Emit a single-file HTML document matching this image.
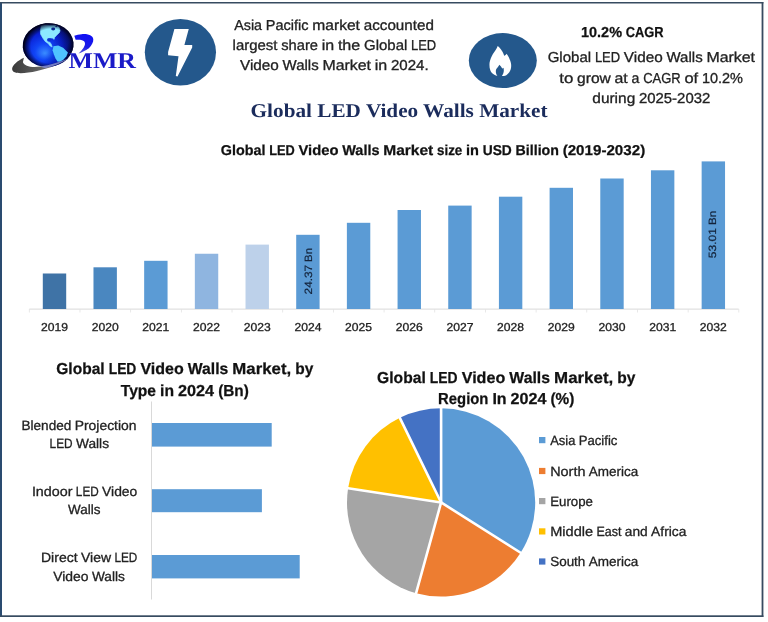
<!DOCTYPE html>
<html lang="en"><head><meta charset="utf-8"><title>Global LED Video Walls Market</title>
<style>
html,body{margin:0;padding:0;background:#fff;}
body{width:768px;height:622px;overflow:hidden;}
svg{display:block;}
text{font-family:"Liberation Sans",sans-serif;fill:#222;stroke:#222;stroke-width:0.3px;}
.b{font-weight:bold;fill:#111;stroke:#111;stroke-width:0.25px;}
.ser{font-family:"Liberation Serif",serif;font-weight:bold;stroke:none;}
</style></head><body>
<svg width="768" height="622" viewBox="0 0 768 622" text-rendering="geometricPrecision">
<defs>
<radialGradient id="gl" cx="0.4" cy="0.58" r="0.62" fx="0.42" fy="0.68">
<stop offset="0" stop-color="#3a8cff"/><stop offset="0.3" stop-color="#1146f6"/><stop offset="0.62" stop-color="#0a22d6"/><stop offset="0.86" stop-color="#061280"/><stop offset="1" stop-color="#02052a"/>
</radialGradient>
<radialGradient id="gl3" cx="0.55" cy="0.53" r="0.53"><stop offset="0" stop-color="#000320" stop-opacity="0"/><stop offset="0.74" stop-color="#000320" stop-opacity="0"/><stop offset="0.9" stop-color="#010428" stop-opacity="0.6"/><stop offset="1" stop-color="#000014" stop-opacity="0.95"/></radialGradient>
<linearGradient id="gl2" x1="0.6" y1="0.4" x2="1" y2="0.6"><stop offset="0" stop-color="#020430" stop-opacity="0"/><stop offset="0.7" stop-color="#020430" stop-opacity="0.25"/><stop offset="1" stop-color="#01021a" stop-opacity="0.8"/></linearGradient>
<linearGradient id="cr" x1="0.6" y1="0" x2="0.3" y2="1"><stop offset="0" stop-color="#1010f4"/><stop offset="0.6" stop-color="#1a1ae6"/><stop offset="1" stop-color="#5a5ad8"/></linearGradient>
<linearGradient id="sw" x1="0" y1="0" x2="1" y2="0"><stop offset="0" stop-color="#3a3a3a"/><stop offset="0.6" stop-color="#6a6a6a"/><stop offset="1" stop-color="#8a8aa8"/></linearGradient>
</defs>
<rect width="768" height="622" fill="#fff"/>

<rect x="0" y="2" width="2" height="615" fill="#2a4b70"/>
<rect x="0" y="2" width="763.4" height="1.5" fill="#374b60"/>
<rect x="761.6" y="2" width="1.8" height="615" fill="#374b60"/>
<rect x="0" y="615.3" width="763.4" height="1.7" fill="#374b60"/>
<g id="logo">
<path d="M23.9,57.8 C18,60.5 11.5,65.5 12.2,69.8 C13.2,74.6 25,73.6 37,71 C50,68.2 61,64 68.5,58.6 C60,62.3 50,65.2 40,66.6 C31,67.8 24.3,66 22.9,62.2 Z" fill="url(#sw)"/>
<ellipse cx="48.1" cy="45" rx="25.4" ry="21.8" fill="url(#gl)" transform="rotate(-6 48.1 45)"/>
<ellipse cx="48.1" cy="45" rx="25.4" ry="21.8" fill="url(#gl2)" transform="rotate(-6 48.1 45)"/>
<path d="M41.3,25.7 L44.4,24.9 L49.6,25.4 L54.8,25.2 L59,27.3 L60.1,30.4 L59.5,32.5 L56.9,35.1 L54.6,37.4 L54.1,39.4 L52.8,38.2 L51.2,38 L47.6,38.2 L46.8,40.3 L48.1,41.9 L50.1,42.4 L51.4,44.5 L52.2,47.1 L50.1,46 L48.1,43.4 L45.2,41.4 L42.9,38.2 L40.5,34.1 L40.4,30.4 Z" fill="#8ce8ff" stroke="#8ce8ff" stroke-width="0.6" stroke-linejoin="round"/>
<ellipse cx="49.4" cy="39.6" rx="2" ry="1.3" fill="#0c34c8"/>
<ellipse cx="53.2" cy="29" rx="2" ry="1.4" fill="#0b2890"/>
<ellipse cx="56.2" cy="26.6" rx="1.1" ry="0.7" fill="#0b2890"/>
<path d="M53.4,46.2 L58.2,45.4 L63.1,47.8 L67.9,52.6 L66.3,56.6 L63.1,60 L59.8,61.8 L57.4,61.4 L55.4,58.2 L53.8,54.2 L52.6,50.2 Z" fill="#4fc4ff"/>
<ellipse cx="48.1" cy="45" rx="25.4" ry="21.8" fill="url(#gl3)" transform="rotate(-6 48.1 45)"/>
<path d="M40,66.6 C50,65.2 60,62.3 68.5,58.6 C62,63 54,66.2 45,68.3 Z" fill="#7d86c8" opacity="0.9"/>
<path d="M74.3,35.8 C76.5,34.9 79,34.4 81.6,34.2 C83.8,34 86,34.1 87.9,34.5 C89.6,34.9 91,35.6 92,36.6 C92.8,37.3 93.2,38.2 93.3,39.2 C93.4,40.7 93,42.2 92.3,43.6 C91.5,45.3 90.3,46.9 88.9,48.3 C87.2,49.6 85.3,50.6 83.2,51.4 C81.6,52.2 80,52.9 78.5,53.5 C80.3,52 81.9,50.2 83.2,48.3 C84.2,46.9 84.9,45.4 85,44.1 C85.1,42.8 84.6,41.7 83.7,41 C82.7,40.3 81.5,39.9 80.1,39.7 C78.6,39.6 77.1,39.7 75.6,39.7 Z" fill="url(#cr)"/>
<text x="68.5" y="68" class="ser" style="font-size:22.5px;fill:#1a1ac8" textLength="67.5" lengthAdjust="spacingAndGlyphs">MMR</text>
</g>
<ellipse cx="180.4" cy="52.3" rx="35.6" ry="33.3" fill="#24588c"/>
<path d="M174.4,29 L188.75,29 L184.4,45 L192.2,45 L192.2,47.5 L177.5,76.5 L175.8,76 L178.5,56.3 L168.1,55.3 L168.1,52 Z" fill="#fff"/>
<ellipse cx="502.8" cy="60.6" rx="34" ry="27.5" fill="#24588c"/>
<path d="M497.7,46.1 C499.5,47.5 500.8,49 501.5,50.3 C503,52.5 503.8,54.3 504.1,55.8 C505.2,55.5 506,54.8 506.4,53.8 C508,55.5 509,57.3 509.6,59.3 C510.6,61.5 511.2,63.5 511.2,65.7 C511.2,68.2 510.6,70.5 509.3,72.2 C508.2,73.8 506.8,75 505.1,75.7 C504,76 503,76.1 501.9,76 C503,74.5 503.9,72.5 503.8,70.2 C503.8,69.2 503.7,68.4 503.5,67.7 C503.1,68.2 502.7,68.5 502.2,68.6 C501.6,67.2 500.6,65.9 499.3,64.8 C498.6,66.5 497,68 496.1,69.6 C495.5,71.5 495.9,73.8 497.4,76 C496.3,75.8 495.5,75.5 494.8,75 C492.5,73.8 491,72.2 490.3,70.2 C489.4,67.8 489.3,65 489.6,62.5 C490.2,59.5 491.5,56.8 492.9,54.1 C494.8,51.2 496.8,48.8 497.7,46.1 Z" fill="#fff"/>
<text y="30" style="font-size:14.4px"><tspan x="234.20" textLength="27.83" lengthAdjust="spacingAndGlyphs">Asia</tspan> <tspan x="265.78" textLength="42.76" lengthAdjust="spacingAndGlyphs">Pacific</tspan> <tspan x="312.28" textLength="47.69" lengthAdjust="spacingAndGlyphs">market</tspan> <tspan x="363.72" textLength="70.18" lengthAdjust="spacingAndGlyphs">accounted</tspan></text>
<text y="50" style="font-size:14.4px"><tspan x="232.60" textLength="44.87" lengthAdjust="spacingAndGlyphs">largest</tspan> <tspan x="281.20" textLength="36.78" lengthAdjust="spacingAndGlyphs">share</tspan> <tspan x="321.71" textLength="12.46" lengthAdjust="spacingAndGlyphs">in</tspan> <tspan x="337.90" textLength="22.41" lengthAdjust="spacingAndGlyphs">the</tspan> <tspan x="364.05" textLength="43.27" lengthAdjust="spacingAndGlyphs">Global</tspan> <tspan x="411.05" textLength="25.15" lengthAdjust="spacingAndGlyphs">LED</tspan></text>
<text y="70" style="font-size:14.4px"><tspan x="240.00" textLength="38.84" lengthAdjust="spacingAndGlyphs">Video</tspan> <tspan x="282.59" textLength="36.14" lengthAdjust="spacingAndGlyphs">Walls</tspan> <tspan x="322.47" textLength="48.52" lengthAdjust="spacingAndGlyphs">Market</tspan> <tspan x="374.74" textLength="12.49" lengthAdjust="spacingAndGlyphs">in</tspan> <tspan x="390.97" textLength="37.73" lengthAdjust="spacingAndGlyphs">2024.</tspan></text>
<text y="37" style="font-size:14.4px" class="b"><tspan x="581.00" textLength="41.03" lengthAdjust="spacingAndGlyphs">10.2%</tspan> <tspan x="625.72" textLength="37.88" lengthAdjust="spacingAndGlyphs">CAGR</tspan></text>
<text y="62" style="font-size:14.4px"><tspan x="547.70" textLength="43.43" lengthAdjust="spacingAndGlyphs">Global</tspan> <tspan x="594.88" textLength="25.25" lengthAdjust="spacingAndGlyphs">LED</tspan> <tspan x="623.87" textLength="38.88" lengthAdjust="spacingAndGlyphs">Video</tspan> <tspan x="666.50" textLength="36.18" lengthAdjust="spacingAndGlyphs">Walls</tspan> <tspan x="706.42" textLength="48.58" lengthAdjust="spacingAndGlyphs">Market</tspan></text>
<text y="83" style="font-size:14.4px"><tspan x="559.30" textLength="14.07" lengthAdjust="spacingAndGlyphs">to</tspan> <tspan x="577.10" textLength="33.69" lengthAdjust="spacingAndGlyphs">grow</tspan> <tspan x="614.52" textLength="13.28" lengthAdjust="spacingAndGlyphs">at</tspan> <tspan x="631.52" textLength="7.90" lengthAdjust="spacingAndGlyphs">a</tspan> <tspan x="643.16" textLength="37.59" lengthAdjust="spacingAndGlyphs">CAGR</tspan> <tspan x="684.48" textLength="13.74" lengthAdjust="spacingAndGlyphs">of</tspan> <tspan x="701.95" textLength="41.05" lengthAdjust="spacingAndGlyphs">10.2%</tspan></text>
<text y="103" style="font-size:14.4px"><tspan x="592.30" textLength="42.95" lengthAdjust="spacingAndGlyphs">during</tspan> <tspan x="638.95" textLength="71.35" lengthAdjust="spacingAndGlyphs">2025-2032</tspan></text>
<text x="250.6" y="117" textLength="297" lengthAdjust="spacingAndGlyphs" style="font-size:19.5px;fill:#1b2c5c" class="ser">Global LED Video Walls Market</text>
<text y="155" style="font-size:14.3px" class="b"><tspan x="220.80" textLength="44.65" lengthAdjust="spacingAndGlyphs">Global</tspan> <tspan x="269.20" textLength="25.52" lengthAdjust="spacingAndGlyphs">LED</tspan> <tspan x="298.46" textLength="39.99" lengthAdjust="spacingAndGlyphs">Video</tspan> <tspan x="342.20" textLength="37.33" lengthAdjust="spacingAndGlyphs">Walls</tspan> <tspan x="383.27" textLength="50.00" lengthAdjust="spacingAndGlyphs">Market</tspan> <tspan x="437.01" textLength="25.29" lengthAdjust="spacingAndGlyphs">size</tspan> <tspan x="466.05" textLength="12.95" lengthAdjust="spacingAndGlyphs">in</tspan> <tspan x="482.74" textLength="29.08" lengthAdjust="spacingAndGlyphs">USD</tspan> <tspan x="515.57" textLength="43.34" lengthAdjust="spacingAndGlyphs">Billion</tspan> <tspan x="562.66" textLength="82.54" lengthAdjust="spacingAndGlyphs">(2019-2032)</tspan></text>
<rect x="29.3" y="308.6" width="709.4" height="1" fill="#d9d9d9"/>
<rect x="28.90" y="309" width="0.8" height="3.5" fill="#e3e3e3"/>
<rect x="79.58" y="309" width="0.8" height="3.5" fill="#e3e3e3"/>
<rect x="130.26" y="309" width="0.8" height="3.5" fill="#e3e3e3"/>
<rect x="180.94" y="309" width="0.8" height="3.5" fill="#e3e3e3"/>
<rect x="231.62" y="309" width="0.8" height="3.5" fill="#e3e3e3"/>
<rect x="282.30" y="309" width="0.8" height="3.5" fill="#e3e3e3"/>
<rect x="332.98" y="309" width="0.8" height="3.5" fill="#e3e3e3"/>
<rect x="383.66" y="309" width="0.8" height="3.5" fill="#e3e3e3"/>
<rect x="434.34" y="309" width="0.8" height="3.5" fill="#e3e3e3"/>
<rect x="485.02" y="309" width="0.8" height="3.5" fill="#e3e3e3"/>
<rect x="535.70" y="309" width="0.8" height="3.5" fill="#e3e3e3"/>
<rect x="586.38" y="309" width="0.8" height="3.5" fill="#e3e3e3"/>
<rect x="637.06" y="309" width="0.8" height="3.5" fill="#e3e3e3"/>
<rect x="687.74" y="309" width="0.8" height="3.5" fill="#e3e3e3"/>
<rect x="738.42" y="309" width="0.8" height="3.5" fill="#e3e3e3"/>
<rect x="42.80" y="273.5" width="23.4" height="35.50" fill="#3f73a6"/>
<text x="41.00" y="331" textLength="27" lengthAdjust="spacingAndGlyphs" style="font-size:11.5px">2019</text>
<rect x="93.48" y="267.3" width="23.4" height="41.70" fill="#4a87c0"/>
<text x="91.68" y="331" textLength="27" lengthAdjust="spacingAndGlyphs" style="font-size:11.5px">2020</text>
<rect x="144.16" y="260.8" width="23.4" height="48.20" fill="#5b9bd5"/>
<text x="142.36" y="331" textLength="27" lengthAdjust="spacingAndGlyphs" style="font-size:11.5px">2021</text>
<rect x="194.84" y="253.75" width="23.4" height="55.25" fill="#8fb5e0"/>
<text x="193.04" y="331" textLength="27" lengthAdjust="spacingAndGlyphs" style="font-size:11.5px">2022</text>
<rect x="245.52" y="244.6" width="23.4" height="64.40" fill="#bdd1ea"/>
<text x="243.72" y="331" textLength="27" lengthAdjust="spacingAndGlyphs" style="font-size:11.5px">2023</text>
<rect x="296.20" y="234.8" width="23.4" height="74.20" fill="#5b9bd5"/>
<text x="294.40" y="331" textLength="27" lengthAdjust="spacingAndGlyphs" style="font-size:11.5px">2024</text>
<rect x="346.88" y="222.8" width="23.4" height="86.20" fill="#5b9bd5"/>
<text x="345.08" y="331" textLength="27" lengthAdjust="spacingAndGlyphs" style="font-size:11.5px">2025</text>
<rect x="397.56" y="210" width="23.4" height="99.00" fill="#5b9bd5"/>
<text x="395.76" y="331" textLength="27" lengthAdjust="spacingAndGlyphs" style="font-size:11.5px">2026</text>
<rect x="448.24" y="205.6" width="23.4" height="103.40" fill="#5b9bd5"/>
<text x="446.44" y="331" textLength="27" lengthAdjust="spacingAndGlyphs" style="font-size:11.5px">2027</text>
<rect x="498.92" y="196.7" width="23.4" height="112.30" fill="#5b9bd5"/>
<text x="497.12" y="331" textLength="27" lengthAdjust="spacingAndGlyphs" style="font-size:11.5px">2028</text>
<rect x="549.60" y="187.8" width="23.4" height="121.20" fill="#5b9bd5"/>
<text x="547.80" y="331" textLength="27" lengthAdjust="spacingAndGlyphs" style="font-size:11.5px">2029</text>
<rect x="600.28" y="178.5" width="23.4" height="130.50" fill="#5b9bd5"/>
<text x="598.48" y="331" textLength="27" lengthAdjust="spacingAndGlyphs" style="font-size:11.5px">2030</text>
<rect x="650.96" y="170.3" width="23.4" height="138.70" fill="#5b9bd5"/>
<text x="649.16" y="331" textLength="27" lengthAdjust="spacingAndGlyphs" style="font-size:11.5px">2031</text>
<rect x="701.64" y="161.4" width="23.4" height="147.60" fill="#5b9bd5"/>
<text x="699.84" y="331" textLength="27" lengthAdjust="spacingAndGlyphs" style="font-size:11.5px">2032</text>
<text transform="translate(311.6,294.4) rotate(-90)" style="font-size:10.6px;fill:#13233b;stroke:#13233b;stroke-width:0.2px"><tspan x="0.00" textLength="29.59" lengthAdjust="spacingAndGlyphs">24.37</tspan> <tspan x="32.52" textLength="13.88" lengthAdjust="spacingAndGlyphs">Bn</tspan></text>
<text transform="translate(716.3,258.2) rotate(-90)" style="font-size:10.6px;fill:#13233b;stroke:#13233b;stroke-width:0.2px"><tspan x="0.00" textLength="30.16" lengthAdjust="spacingAndGlyphs">53.01</tspan> <tspan x="33.15" textLength="14.15" lengthAdjust="spacingAndGlyphs">Bn</tspan></text>
<text y="374" style="font-size:15.9px" class="b"><tspan x="56.25" textLength="48.40" lengthAdjust="spacingAndGlyphs">Global</tspan> <tspan x="108.70" textLength="27.66" lengthAdjust="spacingAndGlyphs">LED</tspan> <tspan x="140.42" textLength="43.34" lengthAdjust="spacingAndGlyphs">Video</tspan> <tspan x="187.82" textLength="40.46" lengthAdjust="spacingAndGlyphs">Walls</tspan> <tspan x="232.34" textLength="58.82" lengthAdjust="spacingAndGlyphs">Market,</tspan> <tspan x="295.21" textLength="18.04" lengthAdjust="spacingAndGlyphs">by</tspan></text>
<text y="396" style="font-size:15.9px" class="b"><tspan x="120.80" textLength="35.23" lengthAdjust="spacingAndGlyphs">Type</tspan> <tspan x="160.05" textLength="13.93" lengthAdjust="spacingAndGlyphs">in</tspan> <tspan x="178.02" textLength="36.11" lengthAdjust="spacingAndGlyphs">2024</tspan> <tspan x="218.16" textLength="30.64" lengthAdjust="spacingAndGlyphs">(Bn)</tspan></text>
<rect x="151" y="401.5" width="1" height="198" fill="#d9d9d9"/>
<rect x="152" y="423" width="119.7" height="23.6" fill="#5b9bd5"/>
<rect x="152" y="489.2" width="109.9" height="23.0" fill="#5b9bd5"/>
<rect x="152" y="555" width="147.7" height="23.4" fill="#5b9bd5"/>
<text y="430" style="font-size:13.4px"><tspan x="21.50" textLength="49.84" lengthAdjust="spacingAndGlyphs">Blended</tspan> <tspan x="74.71" textLength="61.79" lengthAdjust="spacingAndGlyphs">Projection</tspan></text>
<text y="448" style="font-size:13.4px"><tspan x="49.60" textLength="23.01" lengthAdjust="spacingAndGlyphs">LED</tspan> <tspan x="76.02" textLength="32.98" lengthAdjust="spacingAndGlyphs">Walls</tspan></text>
<text y="496" style="font-size:13.4px"><tspan x="31.90" textLength="40.58" lengthAdjust="spacingAndGlyphs">Indoor</tspan> <tspan x="75.87" textLength="22.85" lengthAdjust="spacingAndGlyphs">LED</tspan> <tspan x="102.10" textLength="35.20" lengthAdjust="spacingAndGlyphs">Video</tspan></text>
<text y="514" style="font-size:13.4px"><tspan x="68.10" textLength="32.40" lengthAdjust="spacingAndGlyphs">Walls</tspan></text>
<text y="562" style="font-size:13.4px"><tspan x="41.00" textLength="36.56" lengthAdjust="spacingAndGlyphs">Direct</tspan> <tspan x="80.95" textLength="30.09" lengthAdjust="spacingAndGlyphs">View</tspan> <tspan x="114.43" textLength="22.87" lengthAdjust="spacingAndGlyphs">LED</tspan></text>
<text y="581" style="font-size:13.4px"><tspan x="53.20" textLength="35.33" lengthAdjust="spacingAndGlyphs">Video</tspan> <tspan x="91.93" textLength="32.87" lengthAdjust="spacingAndGlyphs">Walls</tspan></text>
<text y="383" style="font-size:15.9px" class="b"><tspan x="377.10" textLength="48.64" lengthAdjust="spacingAndGlyphs">Global</tspan> <tspan x="429.82" textLength="27.80" lengthAdjust="spacingAndGlyphs">LED</tspan> <tspan x="461.70" textLength="43.56" lengthAdjust="spacingAndGlyphs">Video</tspan> <tspan x="509.34" textLength="40.66" lengthAdjust="spacingAndGlyphs">Walls</tspan> <tspan x="554.08" textLength="59.12" lengthAdjust="spacingAndGlyphs">Market,</tspan> <tspan x="617.27" textLength="18.13" lengthAdjust="spacingAndGlyphs">by</tspan></text>
<text y="404" style="font-size:15.9px" class="b"><tspan x="438.10" textLength="50.33" lengthAdjust="spacingAndGlyphs">Region</tspan> <tspan x="492.43" textLength="14.21" lengthAdjust="spacingAndGlyphs">In</tspan> <tspan x="510.63" textLength="35.86" lengthAdjust="spacingAndGlyphs">2024</tspan> <tspan x="550.49" textLength="23.91" lengthAdjust="spacingAndGlyphs">(%)</tspan></text>
<path d="M441.1,502.45 L441.10,408.35 A94.1,94.1 0 0 1 520.64,552.73 Z" fill="#5b9bd5"/>
<path d="M441.1,502.45 L520.64,552.73 A94.1,94.1 0 0 1 416.11,593.17 Z" fill="#ed7d31"/>
<path d="M441.1,502.45 L416.11,593.17 A94.1,94.1 0 0 1 348.08,488.22 Z" fill="#a5a5a5"/>
<path d="M441.1,502.45 L348.08,488.22 A94.1,94.1 0 0 1 399.85,417.87 Z" fill="#ffc000"/>
<path d="M441.1,502.45 L399.85,417.87 A94.1,94.1 0 0 1 441.10,408.35 Z" fill="#4472c4"/>
<line x1="441.1" y1="502.45" x2="441.10" y2="408.35" stroke="#fff" stroke-width="2.6" stroke-linecap="round"/>
<line x1="441.1" y1="502.45" x2="520.64" y2="552.73" stroke="#fff" stroke-width="2.6" stroke-linecap="round"/>
<line x1="441.1" y1="502.45" x2="416.11" y2="593.17" stroke="#fff" stroke-width="2.6" stroke-linecap="round"/>
<line x1="441.1" y1="502.45" x2="348.08" y2="488.22" stroke="#fff" stroke-width="2.6" stroke-linecap="round"/>
<line x1="441.1" y1="502.45" x2="399.85" y2="417.87" stroke="#fff" stroke-width="2.6" stroke-linecap="round"/>
<rect x="539" y="437.0" width="6.4" height="6.2" fill="#5b9bd5"/>
<text y="445" style="font-size:13.4px"><tspan x="550.20" textLength="25.16" lengthAdjust="spacingAndGlyphs">Asia</tspan> <tspan x="578.75" textLength="38.65" lengthAdjust="spacingAndGlyphs">Pacific</tspan></text>
<rect x="539" y="467.9" width="6.4" height="6.2" fill="#ed7d31"/>
<text y="476" style="font-size:13.4px"><tspan x="550.20" textLength="35.24" lengthAdjust="spacingAndGlyphs">North</tspan> <tspan x="588.79" textLength="49.51" lengthAdjust="spacingAndGlyphs">America</tspan></text>
<rect x="539" y="498.0" width="6.4" height="6.2" fill="#a5a5a5"/>
<text y="506" style="font-size:13.4px"><tspan x="550.20" textLength="42.80" lengthAdjust="spacingAndGlyphs">Europe</tspan></text>
<rect x="539" y="528.3" width="6.4" height="6.2" fill="#ffc000"/>
<text y="536" style="font-size:13.4px"><tspan x="550.20" textLength="42.88" lengthAdjust="spacingAndGlyphs">Middle</tspan> <tspan x="596.47" textLength="24.95" lengthAdjust="spacingAndGlyphs">East</tspan> <tspan x="624.81" textLength="22.92" lengthAdjust="spacingAndGlyphs">and</tspan> <tspan x="651.11" textLength="35.29" lengthAdjust="spacingAndGlyphs">Africa</tspan></text>
<rect x="539" y="558.4" width="6.4" height="6.2" fill="#4472c4"/>
<text y="566" style="font-size:13.4px"><tspan x="550.20" textLength="35.16" lengthAdjust="spacingAndGlyphs">South</tspan> <tspan x="588.71" textLength="49.59" lengthAdjust="spacingAndGlyphs">America</tspan></text>
</svg></body></html>
